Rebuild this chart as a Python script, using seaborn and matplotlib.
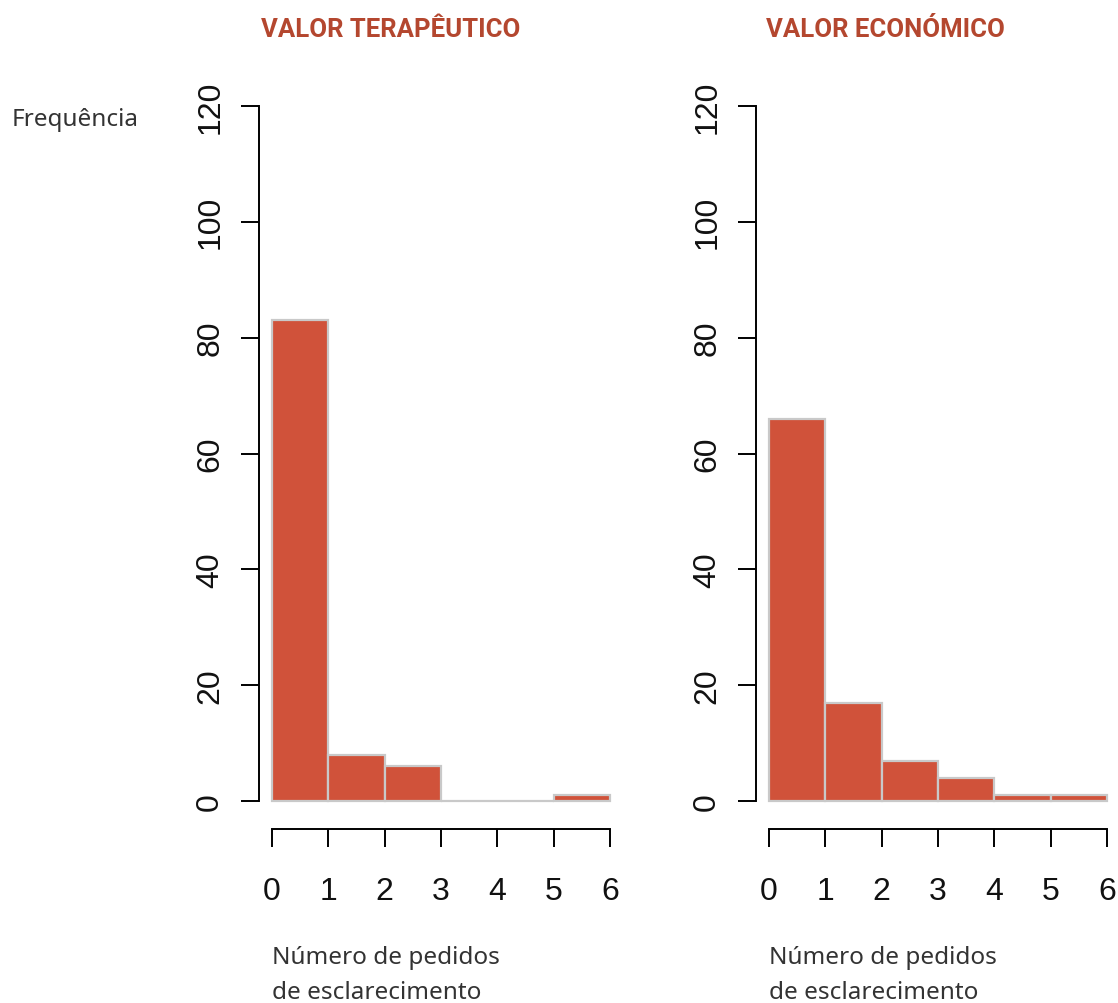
import numpy as np
import pandas as pd
import matplotlib
matplotlib.use("Agg")
import matplotlib.pyplot as plt
import matplotlib.transforms as mtransforms
import seaborn as sns

# Number of clarification requests per dossier, counted in unit bins 0-1, 1-2, ... 5-6
bin_edges = [0, 1, 2, 3, 4, 5, 6]
terapeutico_counts = [83, 8, 6, 0, 0, 1]
economico_counts = [66, 17, 7, 4, 1, 1]
panel_titles = ["VALOR TERAPÊUTICO", "VALOR ECONÓMICO"]
y_ticks = [0, 20, 40, 60, 80, 100, 120]
x_ticks = [0, 1, 2, 3, 4, 5, 6]
y_label = "Frequência"
x_label = "Número de pedidos\nde esclarecimento"

bar_color = "#D0523A"
edge_color = "#C9C9C9"
title_color = "#B4472F"
text_color = "#333333"

sns.set_theme(style="white")
plt.rcParams["font.family"] = ["Liberation Sans", "DejaVu Sans"]

fig = plt.figure(figsize=(11.18, 10.04), dpi=100)

W, H = 1118.0, 1004.0
panel_left_px = [258.5, 755.5]
title_left_px = [261.0, 766.0]
panel_width_px = 365.0
panel_top_px, panel_bottom_px = 79.0, 830.0

series = [terapeutico_counts, economico_counts]
for i, counts in enumerate(series):
    ax = fig.add_axes([panel_left_px[i] / W,
                       1 - panel_bottom_px / H,
                       panel_width_px / W,
                       (panel_bottom_px - panel_top_px) / H])
    centers = [(a + b) / 2 for a, b in zip(bin_edges[:-1], bin_edges[1:])]
    df = pd.DataFrame({"pedidos": centers, "n": counts})
    sns.histplot(data=df, x="pedidos", weights="n", bins=bin_edges, ax=ax,
                 color=bar_color, edgecolor=edge_color, linewidth=1.6,
                 alpha=1.0, stat="count")

    # R-style ranges with 4% padding and detached axes
    ax.set_xlim(-0.24, 6.24)
    ax.set_ylim(-4.8, 124.8)
    for side in ["top", "right"]:
        ax.spines[side].set_visible(False)
    for side in ["left", "bottom"]:
        ax.spines[side].set_visible(True)
        ax.spines[side].set_color("black")
        ax.spines[side].set_linewidth(1.4)
    ax.spines["left"].set_bounds(0, 120)
    ax.spines["bottom"].set_bounds(0, 6)

    ax.set_yticks(y_ticks)
    ax.set_yticklabels([str(v) for v in y_ticks], rotation=90, va="center")
    ax.set_xticks(x_ticks)
    ax.set_xticklabels([str(v) for v in x_ticks])
    ax.tick_params(axis="both", which="both", direction="out", length=13,
                   width=1.4, color="black", labelsize=23, labelcolor="#111111",
                   left=True, bottom=True)
    ax.tick_params(axis="y", pad=11)
    ax.tick_params(axis="x", pad=21)
    ax.set_xlabel("")
    ax.set_ylabel("")
    ax.grid(False)
    ax.set_facecolor("none")

    fig.text(title_left_px[i] / W, 1 - 30 / H, panel_titles[i],
             ha="left", va="center", fontsize=18.5, fontweight="bold",
             color=title_color, family=["Roboto", "DejaVu Sans"])

    # axis caption anchored at x = 0 in data units
    trans = mtransforms.blended_transform_factory(ax.transData, fig.transFigure)
    ax.text(0, 1 - 946 / H, x_label, transform=trans, ha="left", va="top",
            fontsize=17.5, color=text_color, linespacing=1.6,
            family=["Noto Sans", "DejaVu Sans"])

fig.text(12 / W, 1 - 120 / H, y_label, ha="left", va="center", fontsize=17.5,
         color=text_color, family=["Noto Sans", "DejaVu Sans"])

fig.savefig("out.png", dpi=100, facecolor="white")
